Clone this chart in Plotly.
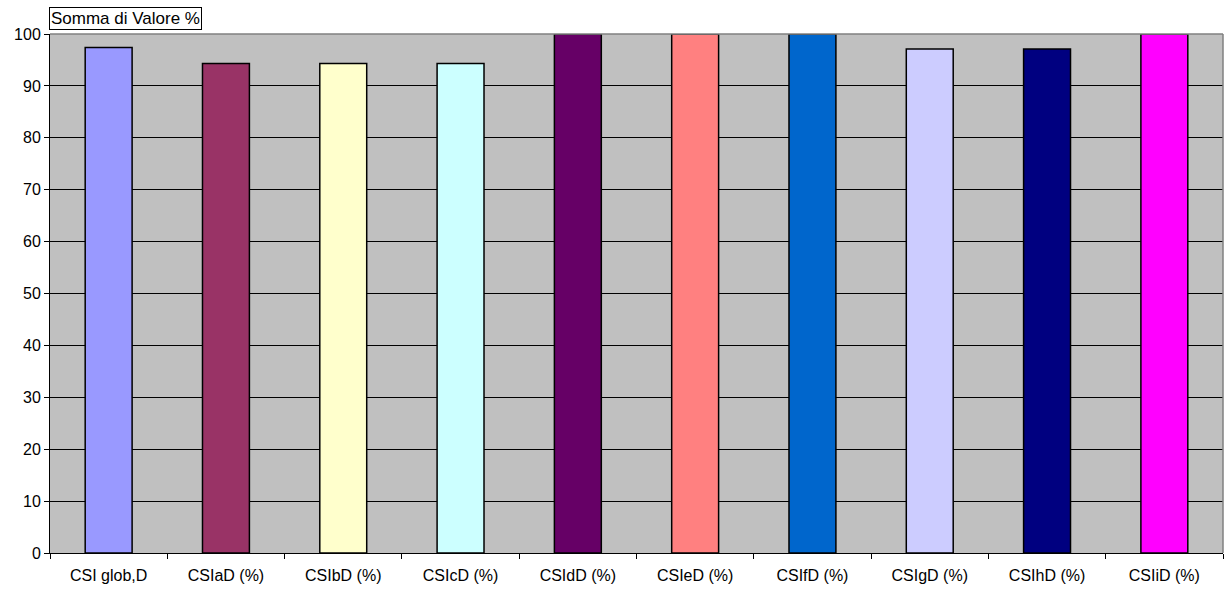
import plotly.graph_objects as go

categories = ["CSI glob,D", "CSIaD (%)", "CSIbD (%)", "CSIcD (%)", "CSIdD (%)",
              "CSIeD (%)", "CSIfD (%)", "CSIgD (%)", "CSIhD (%)", "CSIiD (%)"]
values = [97.4, 94.3, 94.3, 94.3, 100, 100, 100, 97.1, 97.1, 100]
bar_colors = ["#9999FF", "#993366", "#FFFFCC", "#CCFFFF", "#660066",
              "#FF8080", "#0066CC", "#CCCCFF", "#000080", "#FF00FF"]
y_ticks = [0, 10, 20, 30, 40, 50, 60, 70, 80, 90, 100]

fig = go.Figure(go.Bar(
    x=categories, y=values,
    marker=dict(color=bar_colors, line=dict(color="black", width=1.5)),
    width=0.4,
))

fig.update_layout(
    width=1227, height=592,
    margin=dict(l=50, r=4, t=34, b=39),
    paper_bgcolor="white",
    plot_bgcolor="#C0C0C0",
    font=dict(family="Liberation Sans, Arial", size=16, color="black"),
    showlegend=False,
    bargap=0.6,
)
fig.update_xaxes(
    showgrid=False, showline=True, linecolor="black", linewidth=1,
    ticks="outside", ticklen=5, tickcolor="black",
    tickson="boundaries", mirror=False, ticklabelstandoff=8,
)
fig.update_yaxes(
    range=[0, 100], tickvals=y_ticks, showgrid=True, gridcolor="black", gridwidth=1,
    showline=True, linecolor="black", linewidth=1,
    ticks="outside", ticklen=5, tickcolor="black", zeroline=False,
)
# gray frame on top and right of the plot area
fig.add_shape(type="line", xref="paper", yref="paper", x0=0, x1=1, y0=1, y1=1,
              line=dict(color="#808080", width=1.5))
fig.add_shape(type="line", xref="paper", yref="paper", x0=1, x1=1, y0=0, y1=1,
              line=dict(color="#808080", width=1.5))

fig.add_annotation(
    text="Somma di Valore %", xref="paper", yref="paper", x=0, y=1,
    xanchor="left", yanchor="bottom", yshift=4, xshift=-1, showarrow=False,
    font=dict(size=17, color="black"),
    bgcolor="white", bordercolor="black", borderwidth=1, borderpad=1,
)

fig.write_html("out.html")
